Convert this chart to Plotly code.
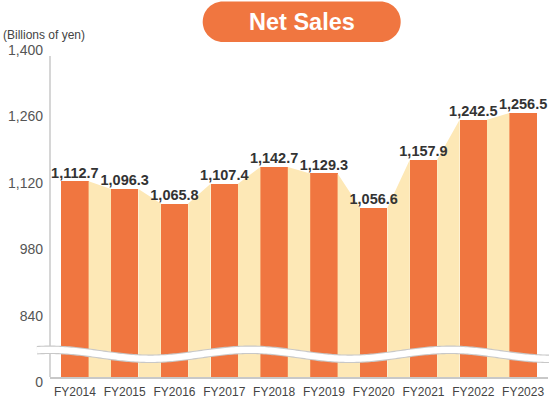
import numpy as np
import plotly.graph_objects as go

# ---------------- data ----------------
categories = ["FY2014", "FY2015", "FY2016", "FY2017", "FY2018",
              "FY2019", "FY2020", "FY2021", "FY2022", "FY2023"]
net_sales = [1112.7, 1096.3, 1065.8, 1107.4, 1142.7,
             1129.3, 1056.6, 1157.9, 1242.5, 1256.5]
y_tickvals = [700, 840, 980, 1120, 1260, 1400]
y_ticktext = ["0", "840", "980", "1,120", "1,260", "1,400"]
title_text = "Net Sales"
unit_text = "(Billions of yen)"

# ---------------- style / geometry ----------------
W, H = 549, 399
ML, MR, MT, MB = 50, 1, 45, 22
PW, PH = W - ML - MR, H - MT - MB
BAR_W = 0.55
ORANGE = "#F07640"
CREAM = "#FDE8B6"
AXIS_GRAY = "#c8c8c8"
FONT = "Liberation Sans, Arial, Helvetica, sans-serif"


def px2paper(px, py):
    return (px - ML) / PW, (H - MB - py) / PH


x = np.arange(len(categories))
y_min, y_max = y_tickvals[0], y_tickvals[-1]

# cream connector polygons between neighbouring bars
gx, gy = [], []
for i in range(len(x) - 1):
    x0 = x[i] + BAR_W / 2
    x1 = x[i + 1] - BAR_W / 2
    gx += [x0, x0, x1, x1, x0, None]
    gy += [y_min, net_sales[i], net_sales[i + 1], y_min, y_min, None]

labels = [f"{v:,.1f}" for v in net_sales]

fig = go.Figure()
fig.add_trace(go.Scatter(
    x=gx, y=gy, mode="lines", fill="toself", fillcolor=CREAM,
    line=dict(width=0, color=CREAM), hoverinfo="skip", showlegend=False))
fig.add_trace(go.Bar(
    x=x, y=net_sales, width=BAR_W, marker=dict(color=ORANGE, line=dict(width=0)),
    showlegend=False))
fig.add_trace(go.Scatter(
    x=x, y=net_sales, mode="text", text=labels, textposition="top center",
    cliponaxis=False, hoverinfo="skip", showlegend=False,
    textfont=dict(family=FONT, size=14.5, color="#333333", weight="bold")))

shapes = []
# y axis line
shapes.append(dict(type="line", xref="paper", yref="paper",
                   x0=0, x1=0, y0=0, y1=px2paper(0, 56)[1],
                   line=dict(color=AXIS_GRAY, width=1.5), layer="above"))

# wavy axis-break band
wx = np.linspace(37, 549, 240)
wy = 354.3 - 4.5 * np.cos(2 * np.pi * (wx - 250) / 200)
pts = [px2paper(a, b) for a, b in zip(wx, wy)]
wpath = "M " + " L ".join(f"{p[0]:.5f},{p[1]:.5f}" for p in pts)
shapes.append(dict(type="path", xref="paper", yref="paper", path=wpath,
                   line=dict(color=AXIS_GRAY, width=8.5), layer="above"))
shapes.append(dict(type="path", xref="paper", yref="paper", path=wpath,
                   line=dict(color="white", width=6.3), layer="above"))

# title pill
x0, x1, y0, y1 = 202.7, 400.7, 1.5, 42.0
r = (y1 - y0) / 2
yc = (y0 + y1) / 2
k = 0.5523 * r


def P(a, b):
    q = px2paper(a, b)
    return f"{q[0]:.5f},{q[1]:.5f}"


ppath = (f"M {P(x0 + r, y0)} L {P(x1 - r, y0)} "
         f"C {P(x1 - r + k, y0)} {P(x1, yc - k)} {P(x1, yc)} "
         f"C {P(x1, yc + k)} {P(x1 - r + k, y1)} {P(x1 - r, y1)} "
         f"L {P(x0 + r, y1)} "
         f"C {P(x0 + r - k, y1)} {P(x0, yc + k)} {P(x0, yc)} "
         f"C {P(x0, yc - k)} {P(x0 + r - k, y0)} {P(x0 + r, y0)} Z")
shapes.append(dict(type="path", xref="paper", yref="paper", path=ppath,
                   fillcolor=ORANGE, line=dict(width=0), layer="above"))

tx, ty = px2paper((x0 + x1) / 2, yc)
ux, uy = px2paper(1, 35)
annotations = [
    dict(text=f"<b>{title_text}</b>", x=tx, y=ty, xref="paper", yref="paper",
         xanchor="center", yanchor="middle", showarrow=False,
         font=dict(family=FONT, size=23.5, color="white")),
    dict(text=unit_text, x=ux, y=uy, xref="paper", yref="paper",
         xanchor="left", yanchor="middle", showarrow=False,
         font=dict(family=FONT, size=12, color="#444444")),
]

fig.update_layout(
    width=W, height=H, margin=dict(l=ML, r=MR, t=MT, b=MB, autoexpand=False),
    paper_bgcolor="white", plot_bgcolor="white",
    shapes=shapes, annotations=annotations, bargap=0,
    xaxis=dict(range=[-0.5, len(x) - 0.5], tickvals=x, ticktext=categories,
               showgrid=False, zeroline=False, showline=True, automargin=False,
               linecolor=AXIS_GRAY, linewidth=1.5, ticks="",
               ticklabelstandoff=3,
               tickfont=dict(family=FONT, size=12, color="#444444")),
    yaxis=dict(range=[y_min, y_max], tickvals=y_tickvals, ticktext=y_ticktext,
               showgrid=False, zeroline=False, showline=False, ticks="",
               automargin=False, ticklabelshift=5, ticklabelstandoff=6,
               tickfont=dict(family=FONT, size=14, color="#555555")),
)

fig.write_html(
    "out.html",
    config={"displayModeBar": False},
    post_script="document.body.style.margin='0';document.body.style.overflow='hidden';",
)
